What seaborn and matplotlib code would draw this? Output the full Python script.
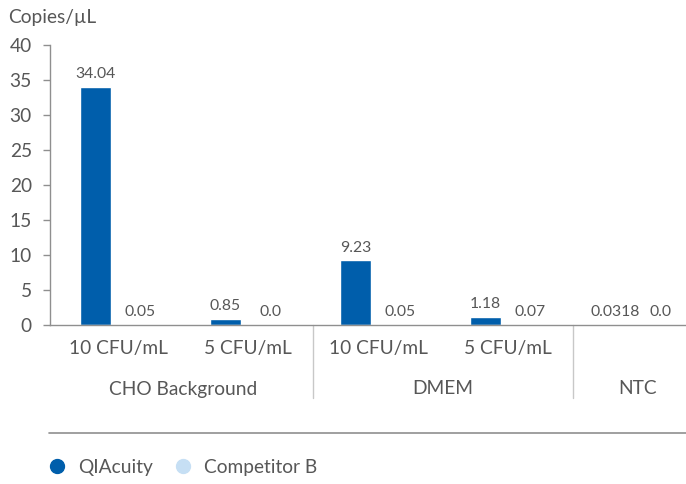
import numpy as np
import pandas as pd
import matplotlib
matplotlib.use("Agg")
import matplotlib.pyplot as plt
from matplotlib.lines import Line2D
import seaborn as sns

# 데이터
groups = ["CHO Background", "CHO Background", "DMEM", "DMEM", "NTC"]
concs = ["10 CFU/mL", "5 CFU/mL", "10 CFU/mL", "5 CFU/mL", ""]
series = ["QIAcuity", "Competitor B"]
qiacuity = [34.04, 0.85, 9.23, 1.18, 0.0318]
competitor = [0.05, 0.0, 0.05, 0.07, 0.0]
y_ticks = [0, 5, 10, 15, 20, 25, 30, 35, 40]

COLORS = {"QIAcuity": "#005EAB", "Competitor B": "#C6DFF4"}
TEXT = "#575757"
LINE = "#8f8f8f"
FS = 13.8

keys = [f"{g}|{c}" for g, c in zip(groups, concs)]
df = pd.DataFrame({
    "key": keys * 2,
    "series": [series[0]] * len(keys) + [series[1]] * len(keys),
    "value": qiacuity + competitor,
})

sns.set_style("white")
plt.rcParams["font.family"] = ["Lato", "DejaVu Sans"]

fig = plt.figure(figsize=(6.86, 4.84), dpi=100)
ax = fig.add_axes([50 / 686, 1 - 325 / 484, 636 / 686, 280 / 484])

sns.barplot(data=df, x="key", y="value", hue="series", order=keys,
            hue_order=series, palette=COLORS, saturation=1,
            width=0.69, gap=0.31, legend=False, ax=ax)

# 값 라벨
for cont, vals in zip(ax.containers, [qiacuity, competitor]):
    ax.bar_label(cont, labels=[str(v) for v in vals], padding=4,
                 fontsize=11.3, color=TEXT)

ax.set_xlim(-0.523, 4.37)
ax.set_ylim(0, 40)
ax.set_yticks(y_ticks)
ax.set_xticks(range(len(keys)))
ax.set_xticklabels(concs)
ax.set_xlabel("")
ax.set_ylabel("")
ax.tick_params(axis="x", length=0, pad=11, labelsize=FS, labelcolor=TEXT)
ax.tick_params(axis="y", length=5, width=1, color=LINE, pad=8,
               labelsize=FS, labelcolor=TEXT, left=True, direction="out")
for s in ["top", "right"]:
    ax.spines[s].set_visible(False)
for s in ["left", "bottom"]:
    ax.spines[s].set_color(LINE)
    ax.spines[s].set_linewidth(1)

# 그룹 라벨 + 구분선
tr = ax.get_xaxis_transform()
pos = np.arange(len(keys))
for g in dict.fromkeys(groups):
    idx = [i for i, gg in enumerate(groups) if gg == g]
    ax.text(pos[idx].mean(), -64 / 280, g, transform=tr, ha="center",
            va="center", fontsize=FS, color=TEXT)
for i in range(1, len(groups)):
    if groups[i] != groups[i - 1]:
        ax.plot([i - 0.5, i - 0.5], [0, -73 / 280], transform=tr,
                color="#c8c8c8", lw=1, clip_on=False)

fig.text(8 / 686, 1 - 18 / 484, "Copies/µL", ha="left", va="center",
         fontsize=FS, color=TEXT)

fig.add_artist(Line2D([49 / 686, 1], [1 - 433 / 484, 1 - 433 / 484],
                      color=LINE, lw=1.2))

handles = [Line2D([], [], marker="o", ls="", ms=10, color=COLORS[s], label=s)
           for s in series]
fig.legend(handles=handles, loc="center left",
           bbox_to_anchor=(47 / 686, 1 - 467 / 484), ncol=2, frameon=False,
           borderpad=0, borderaxespad=0, handlelength=1, handletextpad=0.62,
           columnspacing=1.05, fontsize=FS, labelcolor=TEXT)

fig.savefig("out.png", dpi=100)
